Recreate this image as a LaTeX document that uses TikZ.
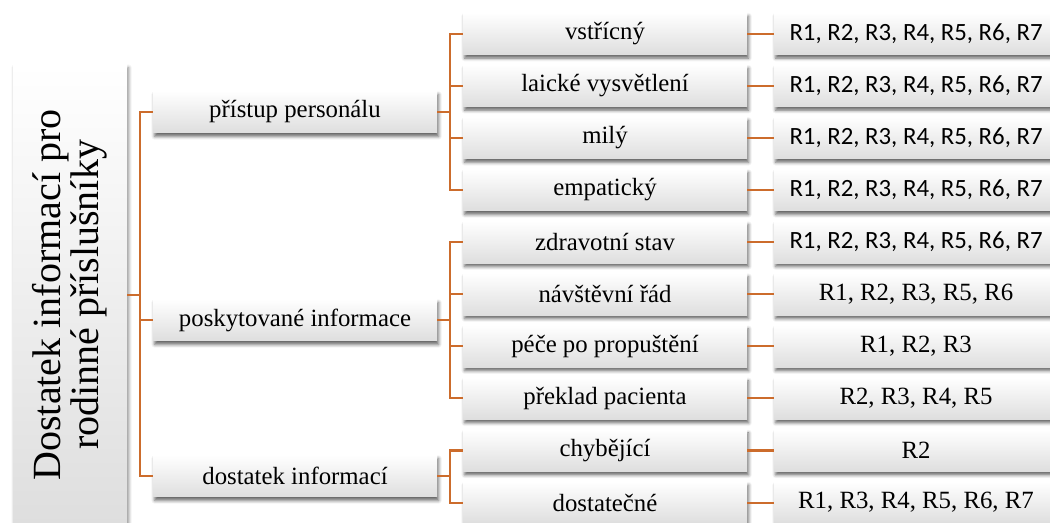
\documentclass[tikz,border=0pt]{standalone}
\usepackage{fontspec}
\setmainfont{Liberation Serif}
\newfontfamily\calibri{Carlito}
\usetikzlibrary{shadows.blur}

\definecolor{linkc}{RGB}{204,108,44}
\definecolor{boxlow}{RGB}{222,222,222}

\begin{document}
\begin{tikzpicture}[x=0.75pt,y=0.75pt,
  card/.style={draw=none, top color=white, bottom color=boxlow,
    minimum width=213pt, minimum height=31.5pt, inner sep=0pt,
    font=\fontsize{18.6pt}{22pt}\selectfont,
    blur shadow={shadow xshift=1.2pt, shadow yshift=-2.6pt,
      shadow blur radius=2.4pt, shadow opacity=60}},
  rootbox/.style={draw=none, top color=white, bottom color=boxlow,
    minimum width=85.5pt, minimum height=345pt, inner sep=0pt,
    blur shadow={shadow xshift=1.2pt, shadow yshift=-2pt,
      shadow blur radius=2.4pt, shadow opacity=50}},
  cal/.style={font=\calibri\fontsize{18.6pt}{22pt}\selectfont},
  link/.style={draw=linkc, line width=1.55pt}]

\useasboundingbox (0,0) rectangle (1050,-523);

% root of the tree
\node[rootbox] (root) at (70,-295) {};
\node[rotate=90, align=center, inner sep=0pt,
      font=\fontsize{30pt}{28.5pt}\selectfont] (roottext) at (root.center)
  {Dostatek informací pro\\rodinné příslušníky};

% second level
\node[card] (a) at (295,-112) {přístup personálu};
\node[card] (b) at (295,-320) {poskytované informace};
\node[card] (c) at (295,-476) {dostatek informací};

% third level
\node[card] (a1) at (605,-33.7)  {vstřícný};
\node[card] (a2) at (605,-85.8)  {laické vysvětlení};
\node[card] (a3) at (605,-137.9) {milý};
\node[card] (a4) at (605,-190.0) {empatický};
\node[card] (b1) at (605,-242.1) {zdravotní stav};
\node[card] (b2) at (605,-294.2) {návštěvní řád};
\node[card] (b3) at (605,-346.3) {péče po propuštění};
\node[card] (b4) at (605,-398.4) {překlad pacienta};
\node[card] (c1) at (605,-450.5) {chybějící};
\node[card] (c2) at (605,-502.6) {dostatečné};

% respondents
\node[card, cal] (ra1) at (916,-33.7)  {R1, R2, R3, R4, R5, R6, R7};
\node[card, cal] (ra2) at (916,-85.8)  {R1, R2, R3, R4, R5, R6, R7};
\node[card, cal] (ra3) at (916,-137.9) {R1, R2, R3, R4, R5, R6, R7};
\node[card, cal] (ra4) at (916,-190.0) {R1, R2, R3, R4, R5, R6, R7};
\node[card, cal] (rb1) at (916,-242.1) {R1, R2, R3, R4, R5, R6, R7};
\node[card] (rb2) at (916,-294.2) {R1, R2, R3, R5, R6};
\node[card] (rb3) at (916,-346.3) {R1, R2, R3};
\node[card] (rb4) at (916,-398.4) {R2, R3, R4, R5};
\node[card] (rc1) at (916,-450.5) {R2};
\node[card] (rc2) at (916,-502.6) {R1, R3, R4, R5, R6, R7};

% connectors
\foreach \ch in {a,b,c}
  \draw[link] (root.east) -- ++(13,0) |- (\ch.west);
\foreach \ch in {a1,a2,a3,a4}
  \draw[link] (a.east) -- ++(13,0) |- (\ch.west);
\foreach \ch in {b1,b2,b3,b4}
  \draw[link] (b.east) -- ++(13,0) |- (\ch.west);
\foreach \ch in {c1,c2}
  \draw[link] (c.east) -- ++(13,0) |- (\ch.west);
\foreach \ch in {a1,a2,a3,a4,b1,b2,b3,b4,c1,c2}
  \draw[link] (\ch.east) -- (r\ch.west);

\end{tikzpicture}
\end{document}
